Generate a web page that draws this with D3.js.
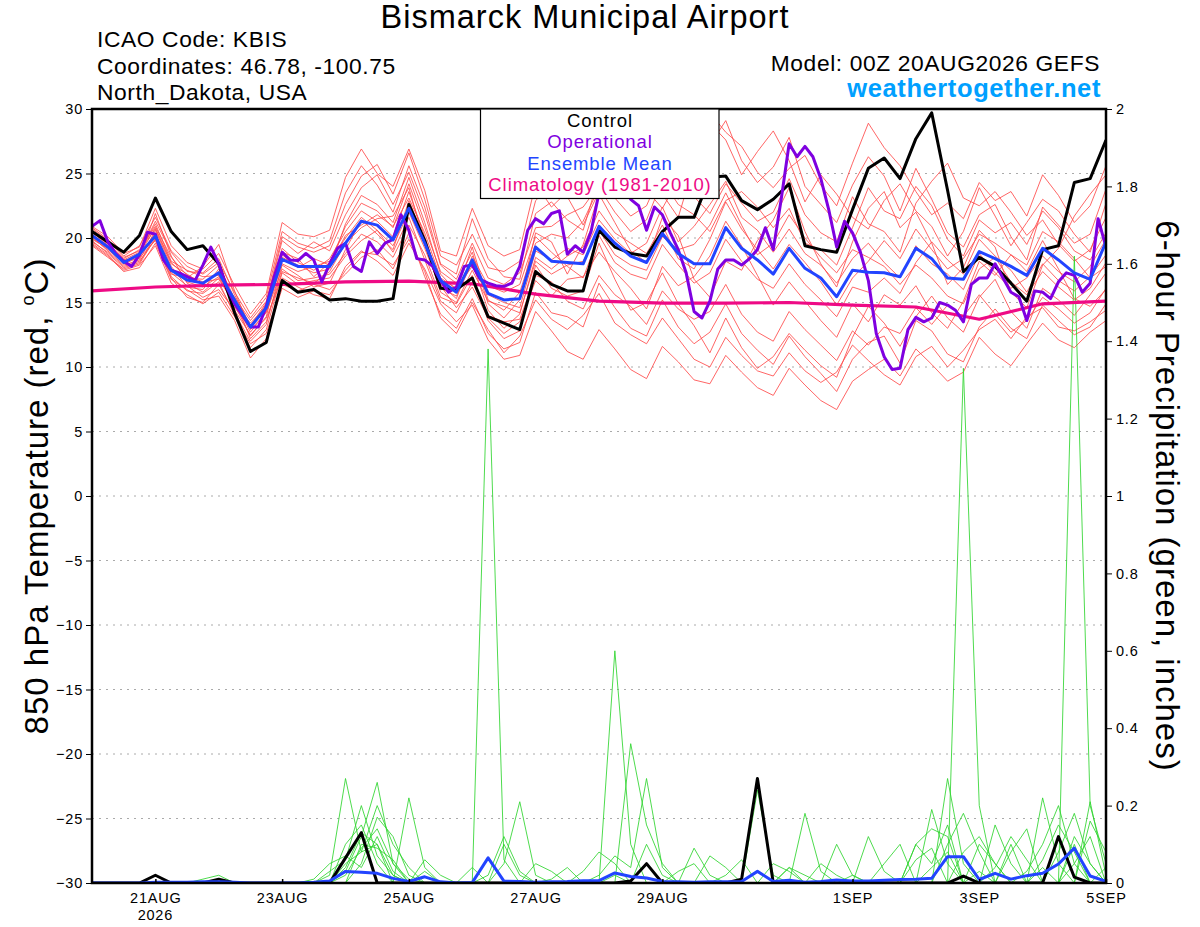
<!DOCTYPE html>
<html>
<head>
<meta charset="utf-8">
<script src="https://cdn.jsdelivr.net/npm/d3@7"></script>
<style>
  body { margin: 0; background: #fff; }
  svg { display: block; font-family: "Liberation Sans", Arial, sans-serif; }
</style>
</head>
<body>
<svg id="chart" width="1200" height="927"></svg>
<script>
// ---- data (6-hourly from 00Z 20AUG2026 unless noted) ----
const tempTicks = [-30, -25, -20, -15, -10, -5, 0, 5, 10, 15, 20, 25, 30];
const precipTicks = [0, 0.2, 0.4, 0.6, 0.8, 1, 1.2, 1.4, 1.6, 1.8, 2];
const dayTicks = ["2026-08-21", "2026-08-23", "2026-08-25", "2026-08-27", "2026-08-29", "2026-09-01", "2026-09-03", "2026-09-05"];
const dayLabels = ["21AUG", "23AUG", "25AUG", "27AUG", "29AUG", "1SEP", "3SEP", "5SEP"];
const legendNames = ["Control", "Operational", "Ensemble Mean", "Climatology (1981-2010)"];

const controlTemp = [20.5, 19.7, 18.9, 20.2, 23.1, 20.5, 19.1, 19.4, 18.0, 14.2, 11.2, 11.9, 16.7, 15.8, 16.0, 15.2,
  15.3, 15.1, 15.1, 15.3, 22.6, 19.8, 16.1, 16.0, 16.9, 13.9, 13.4, 12.9, 17.4, 16.4, 15.9, 15.9,
  20.6, 19.3, 18.8, 18.6, 20.5, 21.6, 21.6, 24.7, 24.8, 22.9, 22.2, 23.0, 24.2, 19.4, 19.1, 18.9,
  22.2, 25.4, 26.2, 24.6, 27.7, 29.7, 23.7, 17.4, 18.5, 17.8, 16.5, 15.1, 19.1, 19.4, 24.3, 24.6, 27.6];

const meanTemp = [20.2, 19.3, 18.1, 18.75, 20.15, 17.5, 16.75, 16.5, 17.3, 15.2, 13.1, 14.6, 18.35, 17.8, 17.8, 17.8,
  19.6, 21.3, 21.0, 19.85, 22.3, 19.6, 16.7, 15.8, 18.3, 15.7, 15.2, 15.3, 19.3, 18.2, 18.1, 18.0,
  20.9, 19.6, 18.6, 18.1, 20.35, 18.8, 18.0, 18.0, 20.8, 19.2, 18.3, 17.2, 19.2, 17.65, 16.9, 15.45,
  17.5, 17.35, 17.3, 17.0, 19.2, 18.4, 16.9, 16.8, 18.95, 18.4, 17.8, 17.1, 19.2, 18.3, 17.3, 16.8, 19.7];

// operational run is 3-hourly
const operTemp = [20.9, 21.35, 19.7, 18.8, 18.2, 17.8, 18.7, 20.45, 20.3, 18.3,
  17.5, 17.3, 17.0, 16.7, 17.9, 19.3, 18.0, 16.2, 14.9, 14.0,
  13.1, 13.1, 14.7, 17.0, 18.9, 18.3, 18.25, 18.8, 18.3, 16.6,
  18.0, 19.2, 19.6, 17.8, 17.4, 19.7, 18.8, 19.6, 19.9, 21.8,
  20.6, 18.4, 18.3, 17.8, 16.7, 15.8, 16.2, 17.8, 17.9, 16.8,
  16.5, 16.3, 16.25, 16.5, 17.8, 20.6, 21.5, 21.1, 21.9, 22.1,
  18.75, 19.4, 18.9, 20.5, 23.5, 25.5, 25.0, 24.0, 23.0, 22.5,
  20.6, 22.4, 21.8, 20.4, 19.1, 17.3, 14.3, 13.8, 15.1, 17.6,
  18.3, 18.3, 17.9, 18.4, 19.1, 20.8, 19.1, 23.0, 27.3, 26.3,
  27.1, 26.3, 24.6, 22.2, 19.3, 21.3, 20.4, 18.9, 16.7, 12.6,
  10.8, 9.8, 9.9, 12.9, 13.85, 13.5, 13.8, 15.0, 14.8, 14.4,
  13.5, 16.4, 16.9, 16.9, 18.0, 16.9, 15.8, 15.45, 13.6, 15.9,
  15.8, 15.3, 16.6, 17.3, 17.1, 15.8, 16.5, 21.5, 19.3];

// climatology is daily at 00Z
const climTemp = [15.9, 16.2, 16.35, 16.4, 16.6, 16.65, 16.45, 15.65, 15.1, 14.95, 14.95, 15.0, 14.8, 14.65, 13.7, 14.9, 15.1];

// ensemble members, 850 hPa temperature
const m01 = [20.8, 19.9, 18.6, 19.4, 21.6, 19.0, 17.8, 17.2, 18.1, 15.8, 13.8, 15.4, 20.5, 19.6, 19.2, 19.8, 23.5, 25.6, 24.1, 22.0, 25.6, 22.4, 18.0, 17.2, 21.5, 18.4, 17.0, 16.8, 21.9, 22.8, 21.4, 20.6, 24.8, 23.1, 21.7, 22.5, 25.3, 23.0, 24.4, 27.2, 29.1, 26.0, 24.3, 25.5, 27.8, 24.0, 22.6, 21.2, 24.1, 26.3, 24.8, 22.1, 25.4, 23.0, 20.4, 19.3, 21.8, 22.6, 20.1, 18.3, 22.4, 21.0, 19.6, 20.3, 23.8];
const m02 = [19.6, 18.7, 17.5, 17.9, 19.4, 16.5, 15.6, 14.9, 15.8, 13.9, 11.8, 12.6, 16.4, 15.9, 16.4, 16.0, 17.2, 18.5, 19.1, 17.6, 20.4, 17.0, 14.1, 13.0, 15.3, 12.6, 11.4, 11.9, 15.8, 14.2, 13.9, 13.1, 16.5, 14.6, 13.0, 12.4, 15.2, 13.1, 11.8, 12.7, 14.9, 12.6, 11.3, 10.2, 12.4, 10.8, 9.5, 8.1, 10.6, 11.9, 12.4, 10.3, 13.6, 12.8, 11.0, 10.4, 13.1, 14.5, 13.0, 12.2, 14.8, 13.6, 12.5, 13.1, 14.9];
const m03 = [20.1, 19.0, 17.9, 18.3, 20.6, 17.8, 16.2, 16.0, 17.6, 14.8, 12.4, 13.9, 18.9, 18.4, 17.0, 18.1, 20.9, 22.7, 22.1, 20.8, 24.2, 20.8, 17.4, 16.5, 18.9, 14.9, 13.8, 15.2, 20.4, 19.7, 17.2, 19.5, 23.4, 21.2, 19.0, 18.1, 21.6, 20.2, 16.8, 15.4, 18.2, 17.5, 19.8, 21.4, 23.9, 20.5, 18.0, 16.2, 19.7, 22.3, 23.6, 20.8, 22.0, 19.6, 16.4, 17.7, 20.6, 19.3, 15.8, 14.6, 17.9, 19.2, 21.7, 23.4, 24.9];
const m04 = [19.4, 18.5, 17.6, 18.0, 20.0, 17.2, 16.9, 17.8, 19.5, 15.9, 12.9, 14.2, 17.6, 16.7, 16.9, 17.2, 18.8, 20.3, 19.7, 18.5, 21.0, 18.7, 15.4, 14.9, 17.1, 13.6, 12.2, 12.8, 17.9, 16.1, 15.5, 15.9, 19.6, 16.8, 14.4, 15.0, 17.3, 14.9, 13.2, 11.1, 13.8, 11.5, 9.9, 10.8, 12.6, 11.3, 10.1, 9.2, 12.3, 14.7, 13.4, 11.6, 13.9, 15.5, 13.8, 12.7, 15.4, 16.8, 14.3, 13.0, 16.1, 15.2, 14.0, 15.6, 17.3];
const m05 = [20.6, 19.5, 18.3, 18.9, 21.1, 18.2, 17.5, 17.0, 17.1, 14.6, 13.0, 14.9, 19.8, 18.8, 19.7, 19.0, 21.8, 23.9, 24.9, 22.6, 25.1, 21.9, 17.9, 16.8, 19.6, 16.9, 16.4, 17.3, 20.8, 20.9, 21.8, 22.4, 24.1, 25.3, 23.4, 24.6, 26.8, 25.1, 23.2, 21.9, 24.2, 22.7, 21.3, 22.0, 24.6, 21.8, 20.4, 19.7, 23.2, 21.1, 20.5, 18.9, 22.7, 24.4, 25.8, 23.1, 22.5, 23.6, 22.0, 20.2, 21.4, 19.5, 18.2, 19.1, 21.6];
const m06 = [19.9, 19.2, 18.0, 18.5, 19.8, 16.9, 15.4, 15.0, 16.4, 14.2, 12.0, 13.3, 17.9, 17.1, 16.2, 16.5, 19.1, 21.4, 20.3, 19.1, 22.9, 19.9, 16.3, 14.6, 16.2, 13.8, 12.6, 13.5, 16.7, 15.5, 16.8, 17.0, 18.9, 17.4, 16.1, 14.5, 17.8, 16.3, 17.0, 18.6, 21.3, 19.4, 17.1, 14.8, 16.6, 15.1, 13.6, 12.3, 14.9, 13.5, 15.6, 14.8, 16.3, 14.2, 13.0, 15.1, 18.2, 17.1, 18.7, 17.4, 19.8, 17.6, 15.3, 14.7, 16.0];
const m07 = [20.4, 19.6, 18.4, 19.1, 20.9, 18.5, 17.1, 16.6, 16.8, 14.9, 13.4, 14.7, 18.7, 17.7, 18.4, 17.9, 20.2, 21.0, 21.8, 20.9, 23.1, 20.4, 16.9, 16.1, 17.8, 15.6, 15.0, 14.6, 19.0, 18.3, 19.2, 18.7, 21.4, 19.9, 18.8, 19.6, 22.4, 19.7, 20.9, 22.6, 24.4, 21.6, 20.6, 18.9, 20.7, 18.8, 17.9, 16.5, 18.4, 19.6, 18.1, 16.9, 19.4, 18.0, 17.2, 16.0, 18.8, 17.3, 16.1, 16.9, 18.6, 17.4, 16.6, 17.8, 19.9];
const m08 = [19.7, 18.9, 17.8, 18.2, 19.9, 17.3, 16.3, 15.4, 16.0, 14.4, 12.5, 13.8, 16.9, 16.2, 15.6, 15.3, 17.8, 19.0, 18.2, 17.1, 19.6, 17.6, 14.9, 13.5, 14.8, 12.1, 10.6, 10.9, 14.3, 12.8, 11.2, 10.6, 12.9, 11.4, 9.8, 9.1, 11.6, 10.4, 9.0, 8.7, 10.9, 9.6, 8.4, 7.8, 9.9, 8.6, 7.4, 6.7, 8.9, 9.8, 10.6, 9.3, 11.4, 10.2, 8.9, 9.6, 12.3, 11.0, 10.1, 11.8, 13.4, 12.1, 11.5, 12.7, 13.6];
const m09 = [20.3, 19.4, 18.2, 18.6, 20.4, 17.6, 16.6, 16.2, 17.0, 15.4, 13.6, 15.1, 19.2, 18.1, 17.5, 18.4, 20.5, 22.1, 21.3, 20.1, 23.6, 20.1, 16.4, 15.3, 18.6, 16.3, 15.8, 16.4, 20.1, 18.9, 17.8, 16.9, 20.2, 18.1, 17.2, 16.8, 19.5, 17.9, 16.5, 17.3, 19.9, 18.2, 16.8, 16.1, 18.0, 16.4, 15.2, 13.9, 16.2, 15.8, 16.9, 15.7, 18.1, 19.7, 18.3, 17.2, 19.9, 18.6, 17.5, 15.8, 18.0, 16.7, 15.9, 17.0, 18.7];
const m10 = [20.0, 19.1, 18.1, 18.8, 21.3, 18.9, 17.4, 17.3, 18.4, 15.6, 13.2, 15.0, 20.1, 19.3, 18.9, 19.4, 22.6, 24.8, 25.7, 23.4, 26.6, 23.0, 18.6, 17.9, 20.3, 17.7, 17.4, 18.2, 22.9, 24.1, 23.2, 21.0, 23.6, 26.4, 27.3, 25.0, 23.4, 21.6, 25.7, 28.9, 27.6, 24.9, 26.7, 28.3, 26.0, 22.8, 24.9, 23.4, 21.6, 20.7, 22.9, 24.2, 22.1, 20.9, 18.6, 20.5, 23.9, 21.7, 19.4, 21.2, 23.0, 22.1, 20.3, 18.9, 22.7];
const m11 = [20.7, 19.8, 18.5, 19.0, 20.7, 18.0, 17.2, 16.4, 17.4, 15.1, 12.7, 14.3, 18.0, 17.4, 17.8, 18.2, 20.0, 21.6, 20.6, 19.4, 22.0, 19.2, 16.1, 15.5, 18.1, 14.4, 13.0, 14.1, 18.5, 17.6, 18.6, 19.3, 22.1, 20.4, 19.6, 18.8, 21.0, 18.4, 17.6, 19.9, 22.8, 20.7, 19.1, 17.6, 19.5, 18.1, 16.6, 14.8, 16.9, 18.2, 19.8, 18.4, 20.7, 19.1, 17.6, 18.4, 20.3, 19.6, 18.7, 17.9, 20.5, 19.7, 18.4, 16.9, 17.8];
const m12 = [19.8, 18.8, 17.7, 18.1, 20.2, 17.0, 15.9, 15.7, 16.6, 14.0, 11.5, 12.9, 17.3, 16.4, 16.7, 16.9, 18.6, 19.8, 20.6, 18.9, 21.6, 18.3, 15.1, 14.2, 16.6, 14.0, 13.5, 13.7, 17.1, 16.6, 15.1, 14.5, 17.1, 15.6, 14.7, 13.3, 15.9, 14.5, 13.7, 14.3, 16.4, 14.1, 12.7, 12.0, 14.3, 12.9, 11.7, 10.5, 12.8, 11.7, 13.1, 12.6, 14.6, 13.3, 14.8, 13.9, 15.6, 14.1, 12.7, 13.6, 15.4, 14.5, 13.4, 14.2, 16.1];
const m13 = [20.5, 19.4, 18.3, 18.4, 21.9, 18.6, 16.5, 15.8, 16.9, 15.0, 13.1, 14.5, 18.5, 17.9, 17.3, 17.6, 21.1, 23.3, 22.6, 21.2, 24.7, 21.2, 17.2, 15.9, 19.3, 15.2, 14.4, 15.8, 19.6, 20.3, 20.0, 21.3, 23.9, 22.0, 20.5, 21.4, 24.5, 22.6, 21.8, 20.5, 22.9, 23.6, 22.4, 20.8, 22.3, 19.6, 19.1, 17.9, 20.8, 23.9, 22.1, 21.5, 24.0, 22.5, 19.9, 18.6, 21.4, 20.4, 21.2, 19.5, 22.1, 20.8, 19.0, 18.3, 20.4];
const m14 = [19.5, 18.6, 17.4, 17.7, 19.6, 16.8, 16.0, 15.2, 15.5, 13.6, 10.7, 12.2, 16.1, 15.4, 15.9, 15.6, 17.5, 18.9, 18.7, 17.9, 19.9, 17.4, 13.8, 12.6, 15.0, 12.9, 11.1, 12.4, 15.2, 13.7, 12.9, 14.0, 15.7, 13.4, 12.5, 11.8, 13.8, 12.2, 10.6, 10.0, 12.3, 10.9, 9.7, 9.3, 11.1, 9.7, 8.8, 9.6, 11.7, 10.5, 9.4, 8.6, 10.8, 11.6, 10.0, 11.3, 12.9, 13.7, 12.2, 13.9, 14.6, 13.1, 12.8, 13.5, 14.4];
const m15 = [20.9, 20.1, 18.8, 19.3, 22.3, 19.4, 18.1, 17.6, 18.8, 16.3, 14.1, 15.7, 21.2, 20.3, 20.1, 20.6, 24.7, 26.9, 25.0, 24.0, 26.9, 23.7, 19.0, 18.6, 22.3, 19.4, 18.6, 19.1, 24.2, 22.4, 23.6, 24.1, 26.2, 24.3, 25.5, 23.7, 22.3, 24.5, 27.4, 29.7, 28.2, 27.1, 25.1, 23.9, 25.4, 26.4, 24.1, 22.5, 25.8, 28.9, 27.0, 25.6, 23.6, 21.8, 22.7, 21.5, 24.3, 22.9, 23.6, 21.7, 24.9, 23.3, 21.2, 22.5, 25.6];
const m16 = [20.2, 19.3, 18.0, 18.7, 20.8, 18.1, 16.9, 16.8, 17.9, 15.3, 12.2, 13.5, 17.4, 16.9, 16.5, 17.4, 19.6, 20.8, 21.5, 21.7, 23.9, 19.6, 15.8, 15.0, 17.5, 15.1, 14.7, 14.2, 18.2, 17.2, 17.9, 18.2, 20.6, 18.7, 17.9, 17.5, 20.1, 19.1, 19.5, 21.0, 23.5, 21.0, 18.7, 19.6, 21.8, 20.0, 18.5, 17.3, 19.1, 18.5, 17.8, 16.4, 17.9, 16.9, 15.5, 14.9, 17.6, 18.5, 16.6, 15.6, 17.4, 16.2, 15.2, 16.1, 18.1];
const memberTemps = [m01, m02, m03, m04, m05, m06, m07, m08, m09, m10, m11, m12, m13, m14, m15, m16];

// 6-hour precipitation (inches)
const controlPrecip = [0, 0, 0, 0, 0.02, 0, 0, 0,
  0.01, 0, 0, 0, 0, 0, 0, 0,
  0.065, 0.13, 0, 0, 0, 0, 0, 0,
  0, 0, 0, 0, 0, 0, 0, 0,
  0, 0, 0.005, 0.05, 0, 0, 0, 0,
  0, 0.01, 0.27, 0, 0, 0, 0, 0,
  0, 0, 0, 0, 0, 0, 0, 0.018,
  0, 0, 0, 0, 0, 0.12, 0.015, 0,
  0];
const meanPrecip = [0, 0, 0, 0, 0.002, 0.002, 0.002, 0.003,
  0.003, 0.002, 0, 0, 0, 0, 0.002, 0.005,
  0.03, 0.028, 0.025, 0.012, 0.004, 0.016, 0.003, 0,
  0.001, 0.065, 0.005, 0.004, 0.002, 0.003, 0.004, 0.006,
  0.006, 0.026, 0.017, 0.013, 0.004, 0.003, 0.002, 0.003,
  0.003, 0.004, 0.03, 0.004, 0.007, 0.002, 0.004, 0.008,
  0.005, 0.005, 0.007, 0.009, 0.01, 0.012, 0.068, 0.068,
  0.009, 0.025, 0.01, 0.019, 0.025, 0.049, 0.09, 0.018,
  0.004];
const p01 = [0, 0, 0, 0, 0, 0, 0, 0.01, 0.02, 0, 0, 0, 0, 0, 0, 0.02, 0.27, 0.08, 0.1, 0.02, 0, 0, 0, 0, 0, 1.38, 0.06, 0, 0, 0, 0, 0, 0, 0.02, 0, 0, 0, 0, 0, 0, 0, 0, 0, 0, 0.04, 0, 0, 0, 0, 0, 0, 0, 0, 0, 0, 0, 0.1, 0.05, 0, 0, 0, 0.08, 0.18, 0.05, 0];
const p02 = [0, 0, 0, 0, 0, 0, 0, 0, 0.01, 0, 0, 0, 0, 0, 0, 0, 0.03, 0.12, 0.26, 0.05, 0, 0.03, 0, 0, 0, 0, 0.1, 0.02, 0, 0, 0, 0, 0, 0.6, 0.1, 0, 0, 0, 0, 0, 0, 0, 0, 0, 0, 0, 0, 0, 0.02, 0, 0, 0, 0, 0, 0, 1.33, 0.2, 0, 0, 0, 0, 0, 0.05, 0.12, 0];
const p03 = [0, 0, 0, 0, 0, 0, 0, 0, 0, 0, 0, 0, 0, 0, 0, 0, 0.1, 0.15, 0.05, 0, 0.22, 0.04, 0, 0, 0, 0, 0, 0, 0, 0, 0, 0, 0, 0, 0.36, 0.15, 0.05, 0, 0, 0, 0, 0, 0.24, 0.02, 0, 0, 0, 0, 0, 0, 0, 0, 0.1, 0.05, 0.15, 0, 0, 0, 0, 0, 0, 0, 1.62, 0.2, 0.05];
const p04 = [0, 0, 0, 0, 0, 0, 0, 0, 0, 0, 0, 0, 0, 0, 0.01, 0.05, 0.07, 0.04, 0.12, 0.03, 0, 0, 0, 0, 0, 0, 0.05, 0.21, 0.02, 0, 0, 0, 0, 0, 0, 0, 0, 0.03, 0.05, 0, 0, 0, 0, 0, 0, 0.18, 0.03, 0, 0, 0, 0, 0, 0, 0, 0.27, 0.05, 0, 0, 0, 0, 0.22, 0.05, 0, 0, 0];
const p05 = [0, 0, 0, 0, 0, 0, 0, 0, 0, 0, 0, 0, 0, 0, 0, 0.03, 0.06, 0.2, 0.07, 0.02, 0, 0, 0, 0, 0, 0, 0, 0, 0, 0, 0, 0.03, 0.08, 0.05, 0, 0, 0, 0, 0, 0, 0.02, 0.06, 0, 0, 0, 0, 0, 0.1, 0.02, 0, 0, 0, 0, 0.19, 0.05, 0, 0, 0, 0.08, 0.14, 0, 0, 0, 0.21, 0.02];
const p06 = [0, 0, 0, 0, 0, 0, 0, 0, 0, 0, 0, 0, 0, 0, 0, 0, 0.02, 0.09, 0.14, 0.05, 0.01, 0, 0, 0, 0, 0, 0, 0, 0, 0.01, 0.04, 0, 0, 0, 0, 0.1, 0.02, 0, 0, 0, 0, 0, 0, 0, 0, 0, 0, 0, 0, 0, 0.05, 0.1, 0, 0, 0, 0.08, 0.12, 0.05, 0, 0, 0.06, 0.15, 0.08, 0, 0];
const p07 = [0, 0, 0, 0, 0, 0, 0, 0, 0, 0, 0, 0, 0, 0, 0, 0, 0, 0.05, 0.17, 0.12, 0.02, 0, 0, 0, 0.04, 0, 0, 0, 0.05, 0.03, 0, 0, 0, 0, 0, 0, 0, 0, 0.09, 0.02, 0, 0, 0, 0, 0, 0, 0, 0, 0, 0.12, 0.03, 0, 0.06, 0.09, 0, 0, 0, 0.04, 0.12, 0.06, 0, 0, 0.1, 0, 0.04];
const p08 = [0, 0, 0, 0, 0, 0, 0, 0, 0, 0, 0, 0, 0, 0, 0, 0, 0.04, 0.13, 0.1, 0, 0, 0.06, 0.02, 0, 0, 0, 0, 0, 0, 0, 0, 0, 0.02, 0.07, 0.04, 0.27, 0.04, 0, 0, 0, 0, 0, 0, 0, 0.04, 0.02, 0, 0, 0, 0, 0, 0, 0, 0, 0.1, 0.18, 0.08, 0, 0, 0.03, 0.1, 0.2, 0.05, 0, 0];
const p09 = [0, 0, 0, 0, 0, 0, 0, 0, 0, 0, 0, 0, 0, 0, 0, 0, 0.05, 0.08, 0.2, 0.1, 0.04, 0, 0, 0, 0, 0, 0, 0, 0, 0, 0, 0, 0, 0, 0, 0, 0, 0, 0, 0.07, 0.04, 0, 0, 0, 0, 0, 0.05, 0.02, 0, 0, 0, 0, 0, 0.04, 0.08, 0, 0, 0.15, 0.05, 0, 0, 0, 0, 0.16, 0.08];
const p10 = [0, 0, 0, 0, 0, 0, 0, 0, 0, 0, 0, 0, 0, 0, 0, 0, 0, 0.1, 0.09, 0.06, 0, 0, 0, 0, 0, 0.02, 0.12, 0.03, 0, 0, 0, 0, 0, 0, 0, 0, 0, 0, 0, 0, 0, 0, 0, 0.05, 0.03, 0, 0, 0, 0, 0, 0, 0, 0.1, 0.14, 0.12, 0, 0.03, 0, 0.1, 0, 0.04, 0, 0.12, 0.05, 0];
const memberPrecips = [p01, p02, p03, p04, p05, p06, p07, p08, p09, p10];

// ---- scales ----
const runStart = Date.UTC(2026, 7, 20, 0);
const HOUR = 3600 * 1000;
const at = (i, step) => new Date(runStart + i * step * HOUR);

const plotL = 92, plotR = 1106, plotT = 109, plotB = 883;
const x = d3.scaleUtc().domain([at(0, 6), at(64, 6)]).range([plotL, plotR]);
const yT = d3.scaleLinear().domain([-30, 30]).range([plotB, plotT]);
const yP = d3.scaleLinear().domain([0, 2]).range([plotB, plotT]);

const svg = d3.select("#chart");

svg.append("defs").append("clipPath").attr("id", "plot")
  .append("rect").attr("x", plotL).attr("y", plotT).attr("width", plotR - plotL).attr("height", plotB - plotT);

function path(values, step, yScale) {
  return d3.line()
    .x((d, i) => x(at(i, step)))
    .y(d => yScale(d))(values);
}

// dotted grid
svg.append("g").selectAll("line")
  .data(tempTicks.filter(t => t > -30 && t < 30))
  .enter().append("line")
    .attr("x1", plotL).attr("x2", plotR)
    .attr("y1", d => yT(d)).attr("y2", d => yT(d))
    .attr("stroke", "#aaaaaa").attr("stroke-width", 1)
    .attr("stroke-dasharray", "2,5");

const plot = svg.append("g").attr("clip-path", "url(#plot)")
  .attr("fill", "none").attr("stroke-linejoin", "round");

plot.selectAll(".member").data(memberTemps).enter().append("path")
  .attr("d", d => path(d, 6, yT))
  .attr("stroke", "#ff4a4a").attr("stroke-width", 0.85);

plot.selectAll(".pmember").data(memberPrecips).enter().append("path")
  .attr("d", d => path(d, 6, yP))
  .attr("stroke", "#2ed42e").attr("stroke-width", 0.85);

plot.append("path").attr("d", path(climTemp, 24, yT))
  .attr("stroke", "#ee0a85").attr("stroke-width", 3.2);
plot.append("path").attr("d", path(controlTemp, 6, yT))
  .attr("stroke", "#000").attr("stroke-width", 3);
plot.append("path").attr("d", path(operTemp, 3, yT))
  .attr("stroke", "#7f00e0").attr("stroke-width", 3);
plot.append("path").attr("d", path(meanTemp, 6, yT))
  .attr("stroke", "#2244ff").attr("stroke-width", 3);

plot.append("path").attr("d", path(controlPrecip, 6, yP))
  .attr("stroke", "#000").attr("stroke-width", 3);
plot.append("path").attr("d", path(meanPrecip, 6, yP))
  .attr("stroke", "#2244ff").attr("stroke-width", 3);

// frame
svg.append("rect")
  .attr("x", plotL).attr("y", plotT).attr("width", plotR - plotL).attr("height", plotB - plotT)
  .attr("fill", "none").attr("stroke", "#000").attr("stroke-width", 2.5);

// axes
const tickFont = g => g.selectAll("text")
  .attr("font-size", 14.5).attr("letter-spacing", 0.8).attr("fill", "#000")
  .attr("font-family", "Liberation Sans, Arial, sans-serif");

const axL = svg.append("g").attr("transform", `translate(${plotL},0)`)
  .call(d3.axisLeft(yT).tickValues(tempTicks).tickSize(6).tickPadding(3));
axL.select(".domain").remove();
axL.call(tickFont);

const axR = svg.append("g").attr("transform", `translate(${plotR},0)`)
  .call(d3.axisRight(yP).tickValues(precipTicks).tickSize(6).tickPadding(4).tickFormat(d => String(d)));
axR.select(".domain").remove();
axR.call(tickFont);

const axB = svg.append("g").attr("transform", `translate(0,${plotB})`)
  .call(d3.axisBottom(x)
    .tickValues(dayTicks.map(s => new Date(s + "T00:00:00Z")))
    .tickFormat((d, i) => dayLabels[i])
    .tickSizeInner(-4).tickSizeOuter(0));
axB.select(".domain").remove();
axB.call(tickFont);
axB.selectAll("text").attr("y", 20).attr("dy", null);
axB.selectAll("line").attr("stroke-width", 1.5);

svg.append("text")
  .attr("x", x(new Date(dayTicks[0] + "T00:00:00Z"))).attr("y", 920)
  .attr("text-anchor", "middle").attr("font-size", 14.5).attr("letter-spacing", 0.8)
  .text("2026");

// axis titles
svg.append("text")
  .attr("transform", `translate(48,${(plotT + plotB) / 2}) rotate(-90)`)
  .attr("text-anchor", "middle").attr("font-size", 33).attr("letter-spacing", 1)
  .call(t => {
    t.append("tspan").text("850 hPa Temperature (red, ");
    t.append("tspan").attr("font-size", 18).attr("dy", -14).text("o");
    t.append("tspan").attr("dy", 14).text("C)");
  });

svg.append("text")
  .attr("transform", `translate(1156,${(plotT + plotB) / 2}) rotate(90)`)
  .attr("text-anchor", "middle").attr("font-size", 33).attr("letter-spacing", 1)
  .text("6-hour Precipitation (green, inches)");

// titles
svg.append("text").attr("x", 585).attr("y", 28).attr("text-anchor", "middle")
  .attr("font-size", 32.5).attr("letter-spacing", 1).text("Bismarck Municipal Airport");

const info = ["ICAO Code: KBIS", "Coordinates: 46.78, -100.75", "North_Dakota, USA"];
svg.append("g").selectAll("text").data(info).enter().append("text")
  .attr("x", 97).attr("y", (d, i) => 47 + i * 26.5)
  .attr("font-size", 22.8).attr("letter-spacing", 0.6).text(d => d);

svg.append("text").attr("x", 1100).attr("y", 71).attr("text-anchor", "end")
  .attr("font-size", 22.8).attr("letter-spacing", 0.6).text("Model: 00Z 20AUG2026 GEFS");
svg.append("text").attr("x", 1101).attr("y", 97).attr("text-anchor", "end")
  .attr("font-size", 25.5).attr("font-weight", "bold").attr("letter-spacing", 0.6)
  .attr("fill", "#00a0ff").text("weathertogether.net");

// legend
const legendColors = ["#000", "#7f00e0", "#2244ff", "#ee0a85"];
const lg = svg.append("g");
lg.append("rect").attr("x", 480.5).attr("y", 109).attr("width", 238.5).attr("height", 89.5)
  .attr("fill", "#fff").attr("stroke", "#000").attr("stroke-width", 1.2);
lg.selectAll("text").data(legendNames).enter().append("text")
  .attr("x", 600).attr("y", (d, i) => 127 + i * 21.4)
  .attr("text-anchor", "middle").attr("font-size", 18.5).attr("letter-spacing", 0.9)
  .attr("fill", (d, i) => legendColors[i]).text(d => d);
</script>
</body>
</html>
